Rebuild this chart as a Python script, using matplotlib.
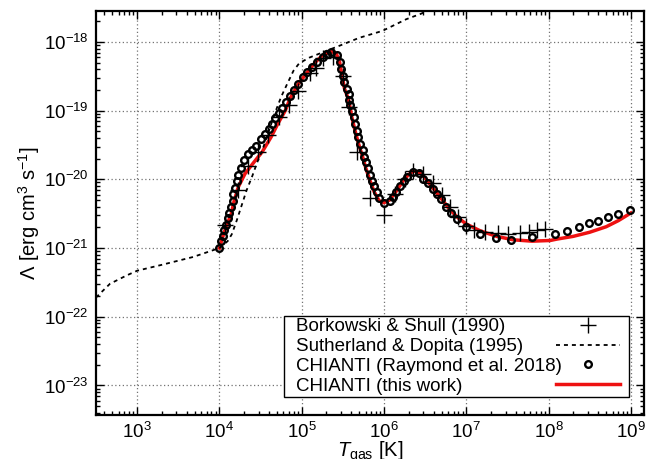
import numpy as np
import matplotlib
matplotlib.use("Agg")
import matplotlib.pyplot as plt
from matplotlib.ticker import LogLocator, NullFormatter
from matplotlib.offsetbox import DrawingArea

plt.rcParams["font.family"] = "Liberation Sans"
plt.rcParams["mathtext.fontset"] = "custom"
plt.rcParams["mathtext.rm"] = "Liberation Sans"
plt.rcParams["mathtext.it"] = "Liberation Sans:italic"
plt.rcParams["font.size"] = 13

# Borkowski & Shull (1990): log T, log Lambda
bs_logT = [4.07, 4.22, 4.35, 4.47, 4.59, 4.72, 4.85, 4.96, 5.10, 5.17, 5.26, 5.38,
           5.50, 5.57, 5.67, 5.83, 6.00, 6.13, 6.25, 6.35, 6.48, 6.60, 6.70, 6.80,
           6.90, 7.00, 7.10, 7.23, 7.38, 7.51, 7.65, 7.76, 7.86, 7.96]
bs_logL = [-20.67, -20.15, -19.80, -19.60, -19.36, -19.10, -18.92, -18.72, -18.45, -18.38,
           -18.24, -18.22, -18.49, -18.95, -19.60, -20.27, -20.52, -20.21, -19.99, -19.88,
           -19.92, -20.05, -20.23, -20.40, -20.55, -20.68, -20.74, -20.77, -20.78, -20.79,
           -20.78, -20.77, -20.74, -20.72]

# Sutherland & Dopita (1995)
sd_logT = [2.50, 2.67, 2.87, 3.00, 3.28, 3.68, 4.00, 4.10, 4.15, 4.21, 4.27, 4.33,
           4.40, 4.46, 4.52, 4.60, 4.67, 4.75, 4.82, 4.90, 4.97, 5.09, 5.30, 5.45,
           5.70, 5.98, 6.27, 6.45, 6.60]
sd_logL = [-21.72, -21.52, -21.40, -21.33, -21.25, -21.13, -21.00, -20.90, -20.80, -20.60,
           -20.38, -20.16, -19.95, -19.75, -19.58, -19.30, -19.05, -18.80, -18.62, -18.42,
           -18.31, -18.23, -18.13, -18.06, -17.94, -17.84, -17.67, -17.59, -17.50]

# CHIANTI (Raymond et al. 2018)
ra_logT = [4.00, 4.02, 4.04, 4.06, 4.08, 4.10, 4.12, 4.14, 4.16, 4.17, 4.19, 4.21,
           4.23, 4.26, 4.30, 4.35, 4.40, 4.45, 4.50, 4.55, 4.60, 4.64, 4.68, 4.72,
           4.76, 4.81, 4.86, 4.91, 4.96, 5.02, 5.07, 5.12, 5.18, 5.26, 5.31, 5.36,
           5.43, 5.46, 5.48, 5.50, 5.52, 5.55, 5.57, 5.58, 5.59, 5.61, 5.63, 5.65,
           5.67, 5.69, 5.71, 5.74, 5.76, 5.78, 5.80, 5.83, 5.85, 5.88, 5.91, 5.94,
           6.00, 6.07, 6.11, 6.15, 6.20, 6.24, 6.28, 6.35, 6.43, 6.48, 6.54, 6.59,
           6.64, 6.69, 6.75, 6.82, 6.89, 7.00, 7.17, 7.36, 7.54, 7.80, 8.08, 8.23,
           8.37, 8.49, 8.60, 8.72, 8.85, 8.99]
ra_logL = [-21.00, -20.90, -20.82, -20.74, -20.66, -20.57, -20.49, -20.40, -20.31, -20.22,
           -20.12, -20.02, -19.93, -19.83, -19.72, -19.63, -19.57, -19.51, -19.42, -19.34,
           -19.27, -19.19, -19.11, -19.04, -18.96, -18.88, -18.79, -18.70, -18.61, -18.51,
           -18.44, -18.37, -18.29, -18.22, -18.18, -18.15, -18.19, -18.29, -18.39, -18.49,
           -18.58, -18.68, -18.76, -18.84, -18.92, -19.01, -19.10, -19.20, -19.30, -19.38,
           -19.48, -19.57, -19.67, -19.75, -19.84, -19.93, -20.02, -20.10, -20.18, -20.27,
           -20.35, -20.31, -20.26, -20.18, -20.10, -20.02, -19.96, -19.89, -19.91, -19.99,
           -20.05, -20.14, -20.21, -20.29, -20.40, -20.49, -20.58, -20.70, -20.80, -20.85,
           -20.89, -20.84, -20.80, -20.75, -20.70, -20.64, -20.60, -20.55, -20.50, -20.45]

# CHIANTI (this work)
tw_logT = [4.00, 4.05, 4.10, 4.14, 4.18, 4.23, 4.31, 4.42, 4.52, 4.63, 4.71, 4.80,
           4.86, 4.96, 5.07, 5.17, 5.24, 5.30, 5.36, 5.42, 5.46, 5.49, 5.52, 5.57,
           5.61, 5.65, 5.69, 5.74, 5.78, 5.83, 5.88, 5.94, 6.00, 6.07, 6.15, 6.24,
           6.30, 6.36, 6.43, 6.50, 6.59, 6.69, 6.80, 6.90, 7.00, 7.17, 7.37, 7.57,
           7.80, 8.02, 8.10, 8.30, 8.50, 8.70, 8.85, 9.00]
tw_logL = [-21.00, -20.80, -20.63, -20.52, -20.31, -20.11, -19.92, -19.75, -19.60, -19.38,
           -19.19, -19.00, -18.82, -18.61, -18.44, -18.29, -18.21, -18.17, -18.14, -18.17,
           -18.29, -18.49, -18.68, -18.84, -19.10, -19.30, -19.48, -19.67, -19.84, -20.02,
           -20.18, -20.31, -20.34, -20.30, -20.17, -20.01, -19.93, -19.88, -19.90, -19.98,
           -20.12, -20.27, -20.44, -20.56, -20.65, -20.75, -20.83, -20.88, -20.90, -20.89,
           -20.87, -20.83, -20.77, -20.69, -20.60, -20.49]

fig = plt.figure(figsize=(6.55, 4.59), dpi=100)
ax = fig.add_axes([96 / 655, 1 - 415 / 459, 548 / 655, 404 / 459])

ax.plot(10 ** np.array(tw_logT), 10 ** np.array(tw_logL), color="#ee1111", lw=2.5,
        zorder=2, label="CHIANTI (this work)")
ax.plot(10 ** np.array(sd_logT), 10 ** np.array(sd_logL), color="black", lw=1.3,
        ls=(0, (2.2, 2.2)), zorder=3, label="Sutherland & Dopita (1995)")
ax.plot(10 ** np.array(ra_logT), 10 ** np.array(ra_logL), ls="none", marker="o", ms=4.8,
        mfc="none", mec="black", mew=1.7, zorder=4, label="CHIANTI (Raymond et al. 2018)")
ax.plot(10 ** np.array(bs_logT), 10 ** np.array(bs_logL), ls="none", marker="+", ms=11,
        mec="black", mew=1.0, zorder=5, label="Borkowski & Shull (1990)")

ax.set_xscale("log")
ax.set_yscale("log")
ax.set_xlim(10 ** 2.5, 10 ** 9.16)
ax.set_ylim(10 ** -23.43, 10 ** -17.55)

ax.xaxis.set_major_locator(LogLocator(base=10, numticks=20))
ax.yaxis.set_major_locator(LogLocator(base=10, numticks=20))
ax.xaxis.set_minor_locator(LogLocator(base=10, subs=np.arange(2, 10), numticks=20))
ax.yaxis.set_minor_locator(LogLocator(base=10, subs=np.arange(2, 10), numticks=20))
ax.xaxis.set_minor_formatter(NullFormatter())
ax.yaxis.set_minor_formatter(NullFormatter())
ax.tick_params(which="both", direction="in", top=True, right=True, width=1)
ax.tick_params(which="major", length=6, labelsize=13.5, pad=5)
ax.tick_params(which="minor", length=3)
for s in ax.spines.values():
    s.set_linewidth(1.6)

ax.grid(True, which="major", ls=(0, (1, 2)), color="0.45", lw=0.9)

ax.set_xlabel(r"$T_{\rm gas}$ [K]", fontsize=14.5, labelpad=-1.5)
ax.set_ylabel(r"$\mathit{\Lambda}$ [erg cm$^3$ s$^{-1}$]", fontsize=14.5, labelpad=2)

h, l = ax.get_legend_handles_labels()
order = [3, 1, 2, 0]
leg = ax.legend([h[i] for i in order], [l[i] for i in order], loc="lower right",
                bbox_to_anchor=(0.972, 0.045), borderaxespad=0, markerfirst=False,
                fancybox=False, framealpha=1, edgecolor="black", fontsize=13.5,
                labelspacing=0.15, handlelength=3.4, borderpad=0.1, handletextpad=1.0)
leg.get_frame().set_linewidth(1.0)
# left-align the labels while keeping the handles in one column on the right,
# with some extra horizontal padding inside the frame
hbox = leg._legend_handle_box
for col in hbox.get_children():
    col.width = 324
    for row in col.get_children():
        row.mode = "expand"
hbox.sep = 0
hbox._children.insert(0, DrawingArea(7, 1))
hbox._children.append(DrawingArea(5, 1))

fig.savefig("out.png", dpi=100)
